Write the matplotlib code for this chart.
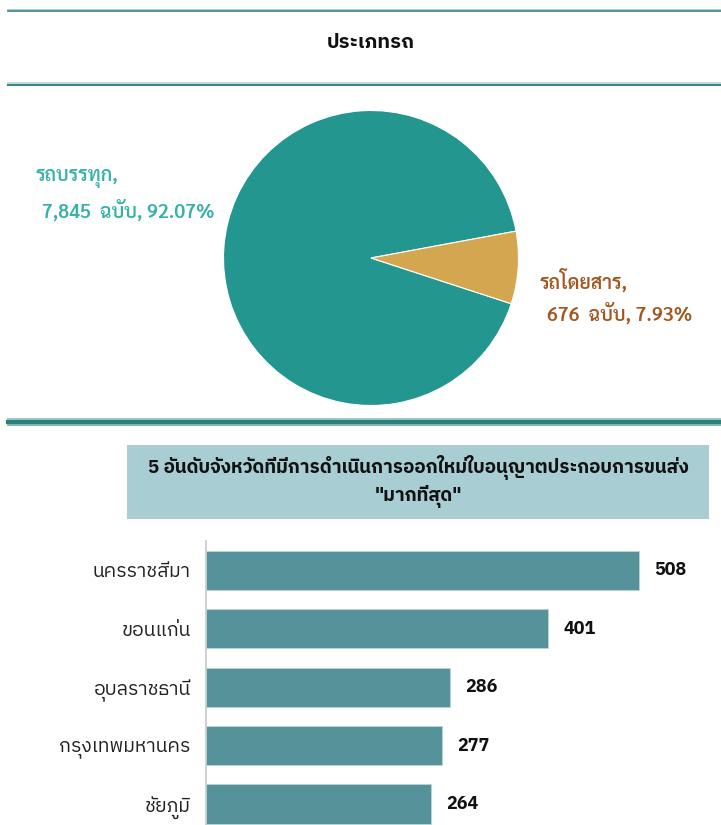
import matplotlib
matplotlib.use("Agg")
import matplotlib.pyplot as plt
from matplotlib.lines import Line2D
from matplotlib.patches import Rectangle

W, H = 721, 825

# vehicle type split
pie_labels = ["รถบรรทุก", "รถโดยสาร"]
pie_counts = [7845, 676]
pie_pcts = [92.07, 7.93]
pie_colors = ["#22968F", "#D4A64F"]
pie_text_colors = ["#35B2A8", "#A3561E"]

# top 5 provinces
provinces = ["นครราชสีมา", "ขอนแก่น", "อุบลราชธานี", "กรุงเทพมหานคร", "ชัยภูมิ"]
licences = [508, 401, 286, 277, 264]

thai = ["IBM Plex Sans Thai", "DejaVu Sans"]
thai_looped = ["Sarabun", "DejaVu Sans"]

fig = plt.figure(figsize=(W / 100, H / 100), dpi=100)


def fx(px):
    return px / W


def fy(py):
    return 1 - py / H


def hline(y, color, lw):
    fig.add_artist(Line2D([fx(8), 1], [fy(y), fy(y)], color=color, lw=lw,
                          transform=fig.transFigure))


# separator lines
hline(10, "#9CCBC8", 1.2)
hline(11, "#3C8884", 1.2)
hline(83, "#B5DAD7", 1.2)
hline(85, "#3C8884", 1.5)
hline(419, "#9CCBC8", 1.5)
hline(422, "#2E7E79", 3.0)
hline(425, "#6AA8A4", 1.2)

fig.text(fx(371), fy(42), "ประเภทรถ", ha="center", va="center",
         fontsize=14.5, fontweight="bold", family=thai, color="#111111")

# pie
cx, cy, r = 371, 258, 147.5
ax_pie = fig.add_axes([fx(cx - r), fy(cy + r), (2 * r) / W, (2 * r) / H])
ax_pie.pie(pie_counts, colors=pie_colors, startangle=10.5, counterclock=True,
           wedgeprops=dict(edgecolor="white", linewidth=0.8))
ax_pie.set_xlim(-1, 1)
ax_pie.set_ylim(-1, 1)
ax_pie.axis("off")

label_pos = [(35, 178, 42, 210), (540, 280, 547, 313)]
for (x1, y1, x2, y2), name, n, p, c in zip(label_pos, pie_labels, pie_counts,
                                           pie_pcts, pie_text_colors):
    fig.text(fx(x1), fy(y1), name + ",", ha="left", va="center", fontsize=14,
             fontweight="semibold", family=thai_looped, color=c)
    fig.text(fx(x2), fy(y2), f"{n:,}  ฉบับ, {p:.2f}%", ha="left", va="center",
             fontsize=14, fontweight="semibold", family=thai_looped, color=c)

# heading box for the bar chart
fig.add_artist(Rectangle((fx(127), fy(519)), fx(709) - fx(127), fy(445) - fy(519),
                         transform=fig.transFigure, facecolor="#A8CDD3",
                         edgecolor="none"))
fig.text(fx(418), fy(467), "5 อันดับจังหวัดที่มีการดำเนินการออกใหม่ใบอนุญาตประกอบการขนส่ง",
         ha="center", va="center", fontsize=13.5, fontweight="bold", family=thai,
         color="#111111")
fig.text(fx(418), fy(497), "\"มากที่สุด\"", ha="center", va="center", fontsize=13.5,
         fontweight="bold", family=thai, color="#111111")

# bars
ax = fig.add_axes([fx(206), 0, 1 - fx(206), (H - 541) / H])
ypos = list(range(len(provinces)))
ax.barh(ypos, licences, height=0.67, color="#56929A", edgecolor="#B9D6D9",
        linewidth=0.6)
for y, v in zip(ypos, licences):
    ax.text(v + 18, y, str(v), ha="left", va="center", fontsize=13,
            fontweight="bold", family=thai, color="#111111")
ax.set_xlim(0, 604)
ax.set_ylim(4.36, -0.5)
ax.set_yticks(ypos)
ax.set_yticklabels(provinces, family=thai, fontsize=14, color="#222222")
ax.tick_params(axis="y", length=0, pad=11)
ax.set_xticks([])
for s in ["top", "right", "bottom"]:
    ax.spines[s].set_visible(False)
ax.spines["left"].set_color("#C8C8C8")
ax.spines["left"].set_linewidth(1.2)

fig.savefig("out.png", dpi=100)
